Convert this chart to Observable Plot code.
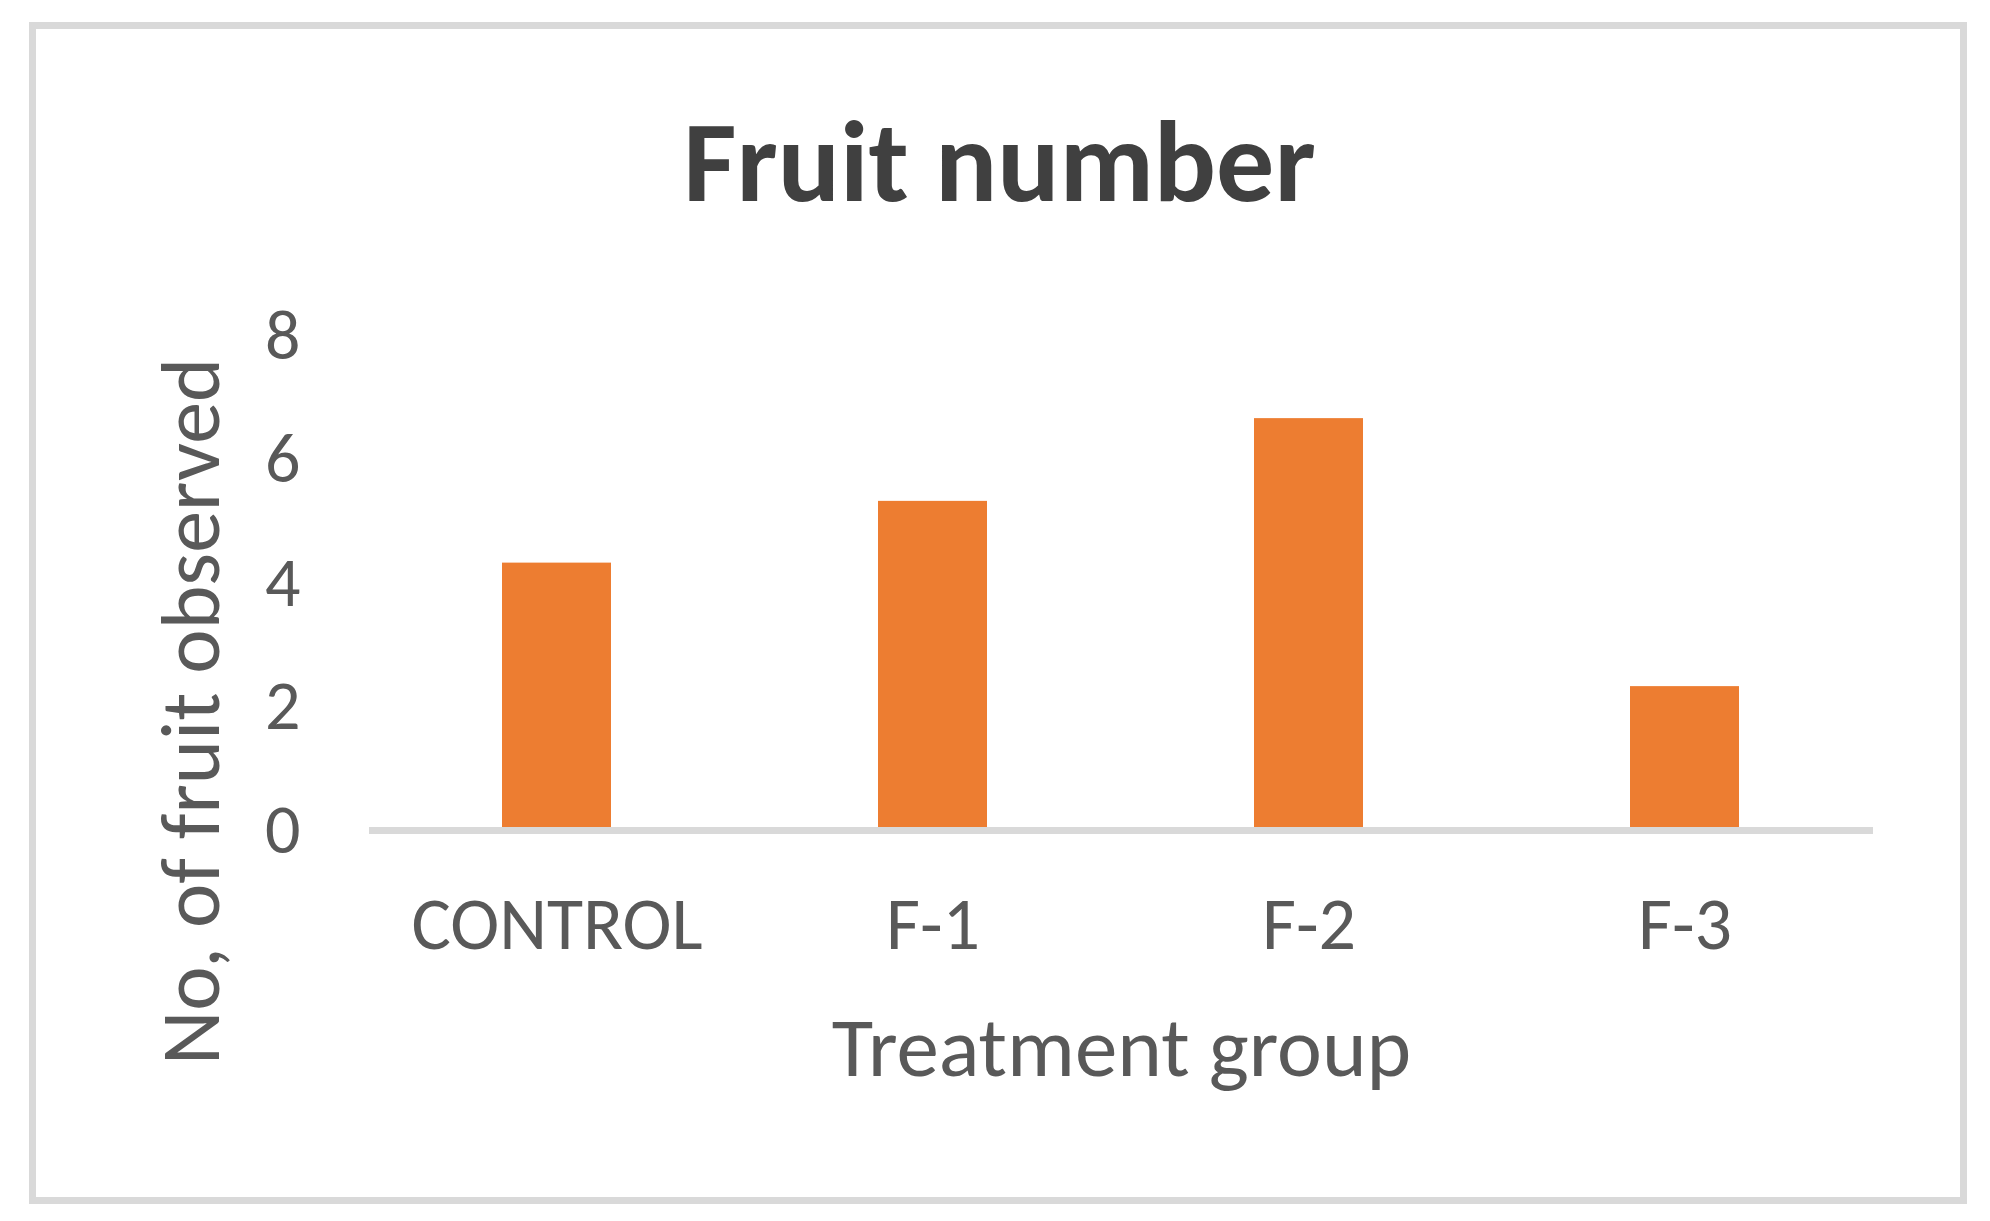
<!DOCTYPE html>
<html><head><meta charset="utf-8">
<script src="https://cdn.jsdelivr.net/npm/d3@7"></script>
<script src="https://cdn.jsdelivr.net/npm/@observablehq/plot@0.6"></script>
<style>
html,body{margin:0;padding:0;background:#fff;}
#wrap{position:relative;width:1990px;height:1221px;}
#border{position:absolute;left:29px;top:22px;width:1938px;height:1182px;border:7px solid #d9d9d9;box-sizing:border-box;pointer-events:none;}
#chart svg{display:block}
</style></head><body>
<div id="wrap"><div id="chart"></div><div id="border"></div></div>
<script>
const categories = ["CONTROL", "F-1", "F-2", "F-3"];
const fruitCounts = [4.33, 5.33, 6.67, 2.33];
const yTicks = [0, 2, 4, 6, 8];
const chartTitle = "Fruit number";
const xTitle = "Treatment group";
const yTitle = "No, of fruit observed";

const data = categories.map((c, i) => ({group: c, value: fruitCounts[i]}));
const FONT = "Calibri, Carlito, Lato, sans-serif";

const plot = Plot.plot({
  width: 1990, height: 1221,
  marginLeft: 369, marginRight: 117, marginTop: 336, marginBottom: 391,
  style: {fontFamily: FONT, background: "transparent", color: "#595959"},
  x: {domain: categories, paddingInner: 0.71, paddingOuter: 0.355},
  y: {domain: [0, 8]},
  marks: [
    Plot.barY(data, {x: "group", y: "value", fill: "#ED7D31"}),
    Plot.ruleY([0], {stroke: "#D9D9D9", strokeWidth: 7}),
    Plot.axisY({ticks: yTicks, tickSize: 0, tickPadding: 69, fontSize: 70, color: "#595959", label: null}),
    Plot.axisX({tickSize: 0, tickPadding: 66, fontSize: 74, color: "#595959", label: null}),
    Plot.text([chartTitle], {frameAnchor: "top", dx: -122, dy: -173, lineAnchor: "middle", textAnchor: "middle", fontSize: 116, fontWeight: "bold", fill: "#404040"}),
    Plot.text([xTitle], {frameAnchor: "bottom", dy: 218, lineAnchor: "middle", textAnchor: "middle", fontSize: 85, fill: "#595959"}),
    Plot.text([yTitle], {frameAnchor: "left", dx: -177, dy: 128, rotate: -90, lineAnchor: "middle", textAnchor: "middle", fontSize: 84, fill: "#595959"})
  ]
});
document.getElementById("chart").appendChild(plot);
</script>
</body></html>
